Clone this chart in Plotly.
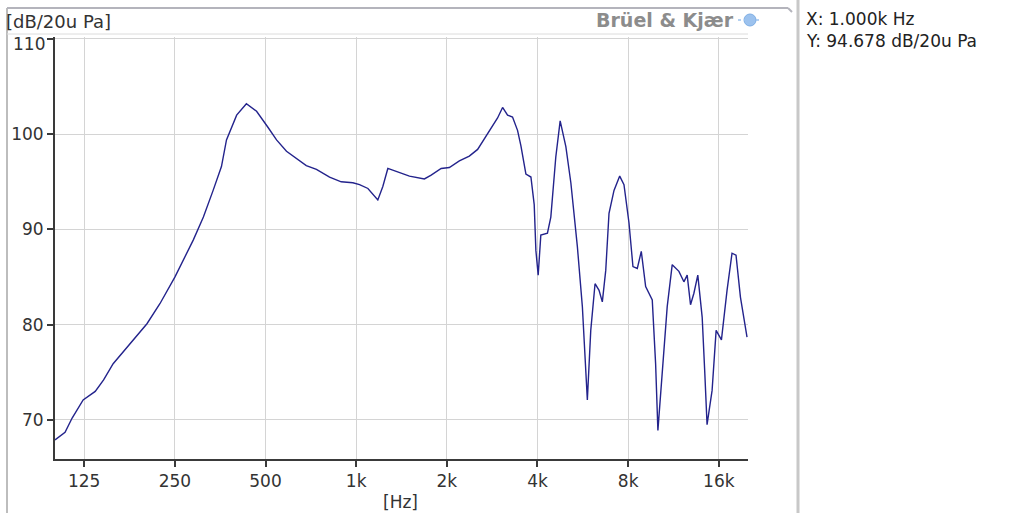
import plotly.graph_objects as go

# ---- data ----
freq_hz = [100, 108, 114, 124, 136, 145, 156, 165, 184, 202, 223, 250, 288, 311, 335,
           357, 371, 401, 432, 467, 510, 544, 587, 633, 683, 738, 816, 892, 975, 1026,
           1094, 1180, 1226, 1274, 1358, 1503, 1685, 1774, 1915, 2039, 2201, 2375, 2531,
           2767, 2948, 3063, 3182, 3305, 3434, 3523, 3615, 3661, 3804, 3901, 3951, 4021,
           4103, 4316, 4429, 4601, 4757, 4969, 5162, 5426, 5637, 5755, 5856, 6011, 6211,
           6404, 6566, 6740, 6911, 7180, 7500, 7749, 8050, 8299, 8579, 8845, 9145, 9619,
           9869, 10043, 10381, 10784, 11205, 11794, 12252, 12563, 12888, 13225, 13625,
           14088, 14375, 14625, 15200, 15675, 16325, 17038, 17700, 18250, 18875, 19850]
level_db = [67.9, 68.7, 70.2, 72.1, 73.0, 74.2, 75.9, 76.8, 78.6, 80.1, 82.2, 85.0, 88.9,
            91.3, 94.1, 96.6, 99.4, 102.0, 103.2, 102.4, 100.7, 99.4, 98.2, 97.5, 96.7,
            96.3, 95.5, 95.0, 94.9, 94.7, 94.3, 93.1, 94.5, 96.4, 96.1, 95.6, 95.3, 95.7,
            96.4, 96.5, 97.2, 97.7, 98.4, 100.3, 101.7, 102.8, 102.0, 101.8, 100.4, 98.8,
            97.0, 95.8, 95.5, 92.6, 87.8, 85.2, 89.4, 89.6, 91.3, 97.6, 101.4, 98.7, 94.9,
            88.2, 81.9, 75.9, 72.1, 79.4, 84.3, 83.6, 82.4, 85.7, 91.7, 94.1, 95.6, 94.7,
            90.7, 86.1, 85.9, 87.7, 84.0, 82.6, 75.9, 68.9, 74.9, 81.9, 86.3, 85.6, 84.5,
            85.2, 82.1, 83.3, 85.2, 80.8, 74.9, 69.5, 73.1, 79.4, 78.4, 83.6, 87.5, 87.3,
            82.9, 78.7]

tick_vals = [125, 250, 500, 1000, 2000, 4000, 8000, 16000]
tick_text = ["125", "250", "500", "1k", "2k", "4k", "8k", "16k"]
y_ticks = [70, 80, 90, 100, 110]
y_tick_text = ["70", "80", "90", "100", ""]
y_top_value = 110
y_top_text = "110"

y_unit_label = "[dB/20u Pa]"
x_unit_label = "[Hz]"
brand_label = "Brüel & Kjær"
cursor_x_label = "X: 1.000k Hz"
cursor_y_label = "Y: 94.678 dB/20u Pa"

# ---- layout geometry (pixels) ----
W, H = 1027, 513
L, R, T, B = 55, 748, 37, 459
PW, PH = R - L, B - T


def px(x):
    return (x - L) / PW


def py(y):
    return (B - y) / PH


FONT = "DejaVu Sans"
FS = 17

fig = go.Figure()
fig.add_trace(go.Scatter(
    x=freq_hz, y=level_db, mode="lines",
    line=dict(color="#23238c", width=1.4),
    hoverinfo="skip", showlegend=False,
))

fig.update_layout(
    width=W, height=H,
    margin=dict(l=L, r=W - R, t=T, b=H - B, pad=0),
    paper_bgcolor="white", plot_bgcolor="white",
    font=dict(family=FONT, size=FS, color="#333333"),
    showlegend=False,
    xaxis=dict(
        type="log", range=[2, 4.30103],
        tickvals=tick_vals, ticktext=tick_text,
        showgrid=True, gridcolor="#d4d4d4", gridwidth=1,
        showline=True, linecolor="#3a3a3a", linewidth=2,
        ticks="outside", ticklen=6, tickcolor="#3a3a3a", tickwidth=1.5,
        tickfont=dict(family=FONT, size=FS, color="#333333"),
        zeroline=False,
    ),
    yaxis=dict(
        range=[65.9, 110.2],
        tickvals=y_ticks, ticktext=y_tick_text,
        showgrid=True, gridcolor="#d4d4d4", gridwidth=1,
        showline=True, linecolor="#3a3a3a", linewidth=2,
        ticks="outside", ticklen=6, tickcolor="#3a3a3a", tickwidth=1.5,
        tickfont=dict(family=FONT, size=FS, color="#333333"),
        zeroline=False,
    ),
)

shapes = [
    # outer frame: left border and top border of the panel
    dict(type="line", xref="paper", yref="paper", x0=px(7), x1=px(7), y0=py(8), y1=py(513),
         line=dict(color="#bdbdbd", width=2)),
    dict(type="line", xref="paper", yref="paper", x0=px(7), x1=px(788), y0=py(8), y1=py(8),
         line=dict(color="#b4b4bc", width=2)),
    dict(type="line", xref="paper", yref="paper", x0=px(788), x1=px(792), y0=py(8), y1=py(12),
         line=dict(color="#b4b4bc", width=2)),
    # header separator
    dict(type="line", xref="paper", yref="paper", x0=px(7), x1=px(748), y0=py(34), y1=py(34),
         line=dict(color="#dcdcdc", width=1)),
    # right divider
    dict(type="line", xref="paper", yref="paper", x0=px(798), x1=px(798), y0=py(0), y1=py(513),
         line=dict(color="#c8c8c8", width=3)),
    # brand icon
    dict(type="circle", xref="paper", yref="paper", x0=px(744), x1=px(756), y0=py(26), y1=py(14),
         fillcolor="#9cc2ee", line=dict(color="#7eaee4", width=1)),
    dict(type="line", xref="paper", yref="paper", x0=px(738), x1=px(762), y0=py(20), y1=py(20),
         line=dict(color="#9cc2ee", width=1.5, dash="dot")),
]
fig.update_layout(shapes=shapes)

annotations = [
    dict(text=y_unit_label, xref="paper", yref="paper", x=px(4), y=py(21),
         xanchor="left", yanchor="middle", font=dict(size=18, color="#333333")),
    dict(text=y_top_text, xref="paper", yref="y", x=px(47), y=y_top_value, yshift=-5,
         xanchor="right", yanchor="middle", font=dict(size=FS, color="#333333")),
    dict(text="<b>" + brand_label + "</b>", xref="paper", yref="paper", x=px(736), y=py(20),
         xanchor="right", yanchor="middle", font=dict(size=19, color="#8c8c8c")),
    dict(text=cursor_x_label, xref="paper", yref="paper", x=px(804), y=py(19),
         xanchor="left", yanchor="middle", font=dict(size=FS, color="#222222")),
    dict(text=cursor_y_label, xref="paper", yref="paper", x=px(804), y=py(41),
         xanchor="left", yanchor="middle", font=dict(size=FS, color="#222222")),
    dict(text=x_unit_label, xref="paper", yref="paper", x=px(400), y=py(502),
         xanchor="center", yanchor="middle", font=dict(size=FS, color="#333333")),
]
for a in annotations:
    a.update(showarrow=False)
fig.update_layout(annotations=annotations)

fig.write_html("out.html", config={"displayModeBar": False},
               post_script="document.body.style.margin='0px';")
